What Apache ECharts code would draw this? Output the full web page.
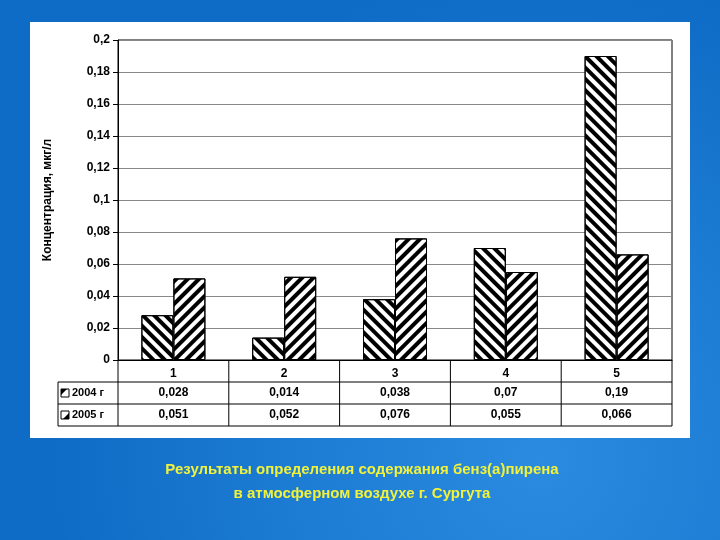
<!DOCTYPE html>
<html><head><meta charset="utf-8">
<script src="https://cdn.jsdelivr.net/npm/echarts@6/dist/echarts.min.js"></script>
<style>html,body{margin:0;padding:0;}#c{width:720px;height:540px;}</style>
</head><body><div id="c"></div>
<script>
var categories = ['1','2','3','4','5'];
var s2004 = [0.028, 0.014, 0.038, 0.07, 0.19];
var s2005 = [0.051, 0.052, 0.076, 0.055, 0.066];
var seriesNames = ['2004 г', '2005 г'];
var title1 = 'Результаты определения содержания бенз(а)пирена';
var title2 = 'в атмосферном воздухе г. Сургута';

function fmt(v){ return String(v).replace('.', ','); }
var chart = echarts.init(document.getElementById('c'));
var F = 'Liberation Sans, Arial, sans-serif';
function decal(rot){ return {symbol:'rect', color:'#000', dashArrayX:[1,0], dashArrayY:[4,4], rotation:rot}; }
chart.setOption({
  animation:false,
  backgroundColor: {type:'radial', x:0.75, y:0.85, r:0.9, colorStops:[{offset:0,color:'#2a8be0'},{offset:1,color:'#0f6cc6'}]},
  grid:{left:118, right:48, top:40, bottom:180, show:true, borderColor:'#000', borderWidth:1, backgroundColor:'#fff'},
  xAxis:{type:'category', data:categories, axisTick:{show:false}, axisLine:{lineStyle:{color:'#000'}},
    axisLabel:{color:'#000', fontFamily:F, fontWeight:'bold', fontSize:12, margin:8}},
  yAxis:{type:'value', min:0, max:0.2, interval:0.02, name:'Концентрация, мкг/л', nameLocation:'middle', nameGap:64,
    nameTextStyle:{color:'#000', fontFamily:F, fontWeight:'bold', fontSize:12},
    axisLine:{show:true, lineStyle:{color:'#000'}}, axisTick:{show:true, length:5, lineStyle:{color:'#000'}},
    axisLabel:{color:'#000', fontFamily:F, fontWeight:'bold', fontSize:12, formatter:function(v){return fmt(+v.toFixed(2));}},
    splitLine:{lineStyle:{color:'#888'}}},
  series:[
    {name:seriesNames[0], type:'bar', data:s2004, barWidth:32, barGap:'0%',
     itemStyle:{color:'#fff', borderColor:'#000', borderWidth:1, decal:decal(Math.PI/4)}},
    {name:seriesNames[1], type:'bar', data:s2005, barWidth:32,
     itemStyle:{color:'#fff', borderColor:'#000', borderWidth:1, decal:decal(-Math.PI/4)}}
  ]
});
var L = 118, R = 672, Y0 = 360, rh = 22, tL = 58;
var cw = (R-L)/categories.length;
var g = [];
g.push({type:'rect', z:-10, shape:{x:30,y:22,width:660,height:416}, style:{fill:'#fff'}});
var ls = {stroke:'#000', lineWidth:1};
g.push({type:'line', shape:{x1:tL,y1:Y0+rh,x2:R,y2:Y0+rh}, style:ls});
g.push({type:'line', shape:{x1:tL,y1:Y0+2*rh,x2:R,y2:Y0+2*rh}, style:ls});
g.push({type:'line', shape:{x1:tL,y1:Y0+3*rh,x2:R,y2:Y0+3*rh}, style:ls});
g.push({type:'line', shape:{x1:tL,y1:Y0+rh,x2:tL,y2:Y0+3*rh}, style:ls});
for (var i=0;i<=categories.length;i++){
  g.push({type:'line', shape:{x1:L+i*cw,y1:Y0,x2:L+i*cw,y2:Y0+3*rh}, style:ls});
}
var rows=[s2004,s2005];
rows.forEach(function(arr,r){
  var y = Y0+(r+1)*rh+rh/2, x=tL+3;
  g.push({type:'rect', shape:{x:x,y:y-4,width:8,height:8}, style:{fill:'#fff',stroke:'#000',lineWidth:1}});
  var pts = r===0 ? [[x,y-4],[x+6,y-4],[x,y+2]] : [[x+8,y+4],[x+2,y+4],[x+8,y-2]];
  g.push({type:'polygon', shape:{points:pts}, style:{fill:'#000'}});
  g.push({type:'text', style:{x:tL+14,y:y,text:seriesNames[r],fill:'#000',font:'bold 11px '+F,textVerticalAlign:'middle'}});
  arr.forEach(function(v,i){
    g.push({type:'text', style:{x:L+(i+0.5)*cw,y:y,text:fmt(v),fill:'#000',font:'bold 12px '+F,textAlign:'center',textVerticalAlign:'middle'}});
  });
});
g.push({type:'text', style:{x:362,y:470,text:title1,fill:'#f2f23a',font:'bold 15px '+F,textAlign:'center',textVerticalAlign:'middle'}});
g.push({type:'text', style:{x:362,y:494,text:title2,fill:'#f2f23a',font:'bold 15px '+F,textAlign:'center',textVerticalAlign:'middle'}});
chart.setOption({graphic:g});
</script></body></html>
